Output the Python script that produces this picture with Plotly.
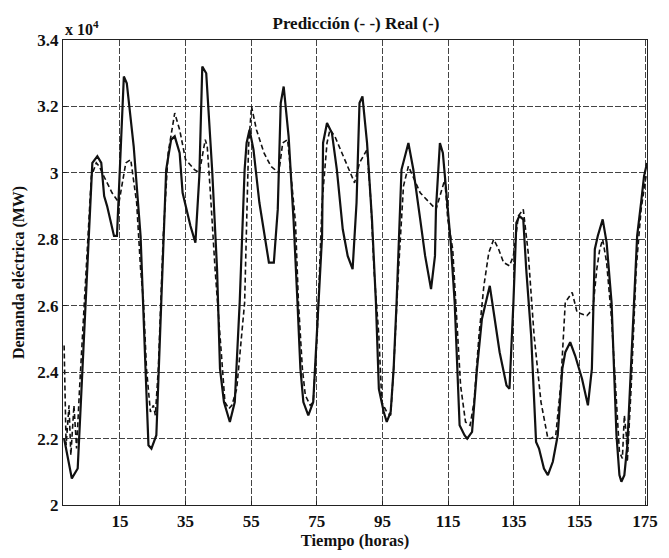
import plotly.graph_objects as go

# Real demand (solid), x 10^4 MW
real_t = [-2.0, 0.35, 2.14, 5.13, 6.6, 8.12, 9.32, 10.2, 11.1, 13.2, 14.1, 16.2, 17.1, 19.2, 21.3, 22.8,
          23.7, 24.6, 26.1, 27.6, 29.1, 30.6, 31.7, 33.2, 34.1, 36.5, 38.0, 39.2, 40.1, 41.3, 43.1, 44.6,
          45.5, 46.7, 48.5, 50.0, 51.5, 53.0, 53.6, 54.5, 55.7, 57.5, 59.5, 60.4, 61.9, 63.1, 64.0, 64.9,
          66.4, 67.9, 69.1, 70.0, 70.9, 72.4, 73.9, 75.4, 76.6, 76.9, 78.1, 79.6, 81.1, 82.9, 84.4, 85.9,
          87.1, 88.0, 88.9, 90.3, 91.8, 93.0, 93.9, 95.4, 96.3, 97.5, 98.4, 99.3, 100.8, 102.9, 104.4, 106.5,
          108.0, 109.8, 111.0, 111.3, 112.5, 113.4, 114.3, 115.8, 117.0, 118.5, 120.0, 120.8, 122.3, 123.8,
          125.3, 127.7, 129.2, 130.7, 132.8, 133.7, 134.9, 135.8, 136.7, 137.9, 138.8, 140.3, 141.8, 142.7,
          144.2, 145.4, 146.9, 148.4, 149.8, 150.7, 152.2, 153.7, 155.8, 157.6, 158.8, 159.7, 160.6, 162.1,
          163.3, 164.8, 166.3, 167.2, 167.8, 168.7, 169.6, 171.1, 172.6, 173.8, 174.7, 175.6]
real_v = [2.20, 2.08, 2.11, 2.71, 3.03, 3.05, 3.03, 2.93, 2.90, 2.81, 2.81, 3.29, 3.27, 3.08, 2.81, 2.41,
          2.18, 2.17, 2.21, 2.61, 3.01, 3.10, 3.11, 3.06, 2.94, 2.84, 2.79, 2.99, 3.32, 3.30, 3.01, 2.71,
          2.41, 2.31, 2.25, 2.31, 2.61, 3.01, 3.09, 3.13, 3.07, 2.91, 2.79, 2.73, 2.73, 2.89, 3.21, 3.26,
          3.11, 2.86, 2.61, 2.41, 2.31, 2.27, 2.31, 2.61, 2.81, 3.09, 3.15, 3.12, 3.01, 2.83, 2.75, 2.71,
          2.91, 3.21, 3.23, 3.09, 2.86, 2.61, 2.35, 2.28, 2.25, 2.28, 2.41, 2.61, 3.01, 3.09, 3.01, 2.86,
          2.75, 2.65, 2.75, 2.89, 3.09, 3.06, 2.96, 2.79, 2.61, 2.24, 2.21, 2.20, 2.22, 2.41,
          2.56, 2.66, 2.56, 2.46, 2.36, 2.35, 2.61, 2.85, 2.87, 2.86, 2.71, 2.51, 2.19, 2.17,
          2.11, 2.09, 2.13, 2.21, 2.41, 2.46, 2.49, 2.45, 2.38, 2.30, 2.41, 2.77, 2.81, 2.86,
          2.79, 2.61, 2.21, 2.09, 2.07, 2.09, 2.18, 2.51, 2.81, 2.91, 2.99, 3.03]

# Prediction (dashed), x 10^4 MW
pred_t = [-2.0, -1.4, -0.5, 0.05, 1.0, 1.8, 2.7, 5.1, 6.3, 7.8, 8.7, 9.6, 12.6, 14.7, 16.8, 18.3, 20.1,
          21.3, 22.2, 23.1, 24.3, 25.2, 25.8, 26.7, 28.2, 29.7, 31.7, 33.2, 35.0, 37.7, 39.2, 41.0, 41.6,
          42.5, 44.0, 45.5, 47.0, 48.2, 49.1, 50.6, 53.0, 54.2, 55.1, 56.6, 58.9, 61.0, 63.4, 64.6, 66.1,
          68.5, 69.4, 70.6, 71.5, 73.0, 73.9, 75.1, 76.6, 78.1, 79.0, 80.5, 83.5, 85.6, 86.5, 88.0, 90.3,
          91.5, 92.4, 93.9, 94.8, 96.3, 97.5, 98.4, 99.9, 101.4, 102.9, 106.5, 111.3, 114.0, 114.9, 116.4,
          117.3, 118.8, 120.3, 121.7, 122.9, 124.4, 125.9, 127.4, 128.9, 130.4, 131.9, 133.7, 134.9, 136.4,
          137.9, 139.4, 141.2, 143.3, 145.4, 146.3, 147.8, 149.3, 150.7, 152.8, 154.3, 157.3, 159.1, 160.3,
          161.2, 162.1, 163.3, 164.8, 166.3, 167.2, 168.1, 168.7, 169.3, 169.6, 170.8, 172.3, 173.8, 175.3]
pred_v = [2.48, 2.18, 2.30, 2.15, 2.30, 2.17, 2.35, 2.77, 2.99, 3.03, 3.02, 3.00, 2.94, 2.91, 3.03, 3.04, 2.91,
          2.71, 2.61, 2.41, 2.28, 2.30, 2.27, 2.41, 2.81, 3.06, 3.18, 3.13, 3.04, 3.01, 3.00, 3.10, 3.08,
          2.95, 2.71, 2.51, 2.31, 2.29, 2.30, 2.35, 2.61, 3.08, 3.20, 3.13, 3.06, 3.02, 3.00, 3.09, 3.10,
          2.85, 2.61, 2.41, 2.33, 2.30, 2.31, 2.51, 2.91, 3.09, 3.13, 3.11, 3.04, 2.99, 2.97, 3.03, 3.07,
          2.91, 2.71, 2.51, 2.31, 2.28, 2.27, 2.41, 2.71, 2.96, 3.02, 2.94, 2.89, 2.98, 2.86, 2.77,
          2.61, 2.36, 2.25, 2.24, 2.31, 2.51, 2.66, 2.76, 2.80, 2.77, 2.73, 2.72, 2.75, 2.87,
          2.89, 2.76, 2.51, 2.31, 2.20, 2.20, 2.21, 2.36, 2.61, 2.64, 2.58, 2.57, 2.59, 2.71,
          2.77, 2.80, 2.73, 2.56, 2.31, 2.16, 2.14, 2.27, 2.21, 2.13, 2.36, 2.71, 2.89, 2.99]

x_ticks = [15, 35, 55, 75, 95, 115, 135, 155, 175]
y_ticks = [2.0, 2.2, 2.4, 2.6, 2.8, 3.0, 3.2, 3.4]
y_labels = ["2", "2.2", "2.4", "2.6", "2.8", "3", "3.2", "3.4"]

FONT = "Liberation Serif"

fig = go.Figure()
fig.add_trace(go.Scatter(x=pred_t, y=pred_v, mode="lines",
                         line=dict(color="#111", width=1.6, dash="5px,3px"), name="Predicción"))
fig.add_trace(go.Scatter(x=real_t, y=real_v, mode="lines",
                         line=dict(color="#111", width=2.2), name="Real"))

axis_common = dict(showline=True, linecolor="#222", linewidth=1.2, mirror=True,
                   ticks="inside", ticklen=4, tickcolor="#222",
                   showgrid=True, gridcolor="#444", gridwidth=1, griddash="6px,2px",
                   zeroline=False,
                   tickfont=dict(family=FONT, size=17, color="#111", weight="bold"))

fig.update_xaxes(range=[-2.34, 175.6], tickvals=x_ticks, **axis_common,
                 title=dict(text="Tiempo (horas)",
                            font=dict(family=FONT, size=16.5, color="#111", weight="bold"),
                            standoff=4))
fig.update_yaxes(range=[2.0, 3.4], tickvals=y_ticks, ticktext=y_labels, **axis_common,
                 title=dict(text="Demanda eléctrica (MW)",
                            font=dict(family=FONT, size=16, color="#111", weight="bold"),
                            standoff=8))

fig.update_layout(
    width=669, height=558,
    margin=dict(l=63, r=11, t=40, b=53),
    paper_bgcolor="white", plot_bgcolor="white",
    showlegend=False,
    title=dict(text="Predicción (- -) Real (-)", x=0.532, xanchor="center", y=0.958, yanchor="middle",
               font=dict(family=FONT, size=17, color="#111", weight="bold")),
    annotations=[dict(text="x 10<sup>4</sup>", xref="paper", yref="paper", x=0.0, y=1.0,
                      xanchor="left", yanchor="bottom", showarrow=False,
                      font=dict(family=FONT, size=16, color="#111", weight="bold"))],
)

fig.write_html("out.html")
